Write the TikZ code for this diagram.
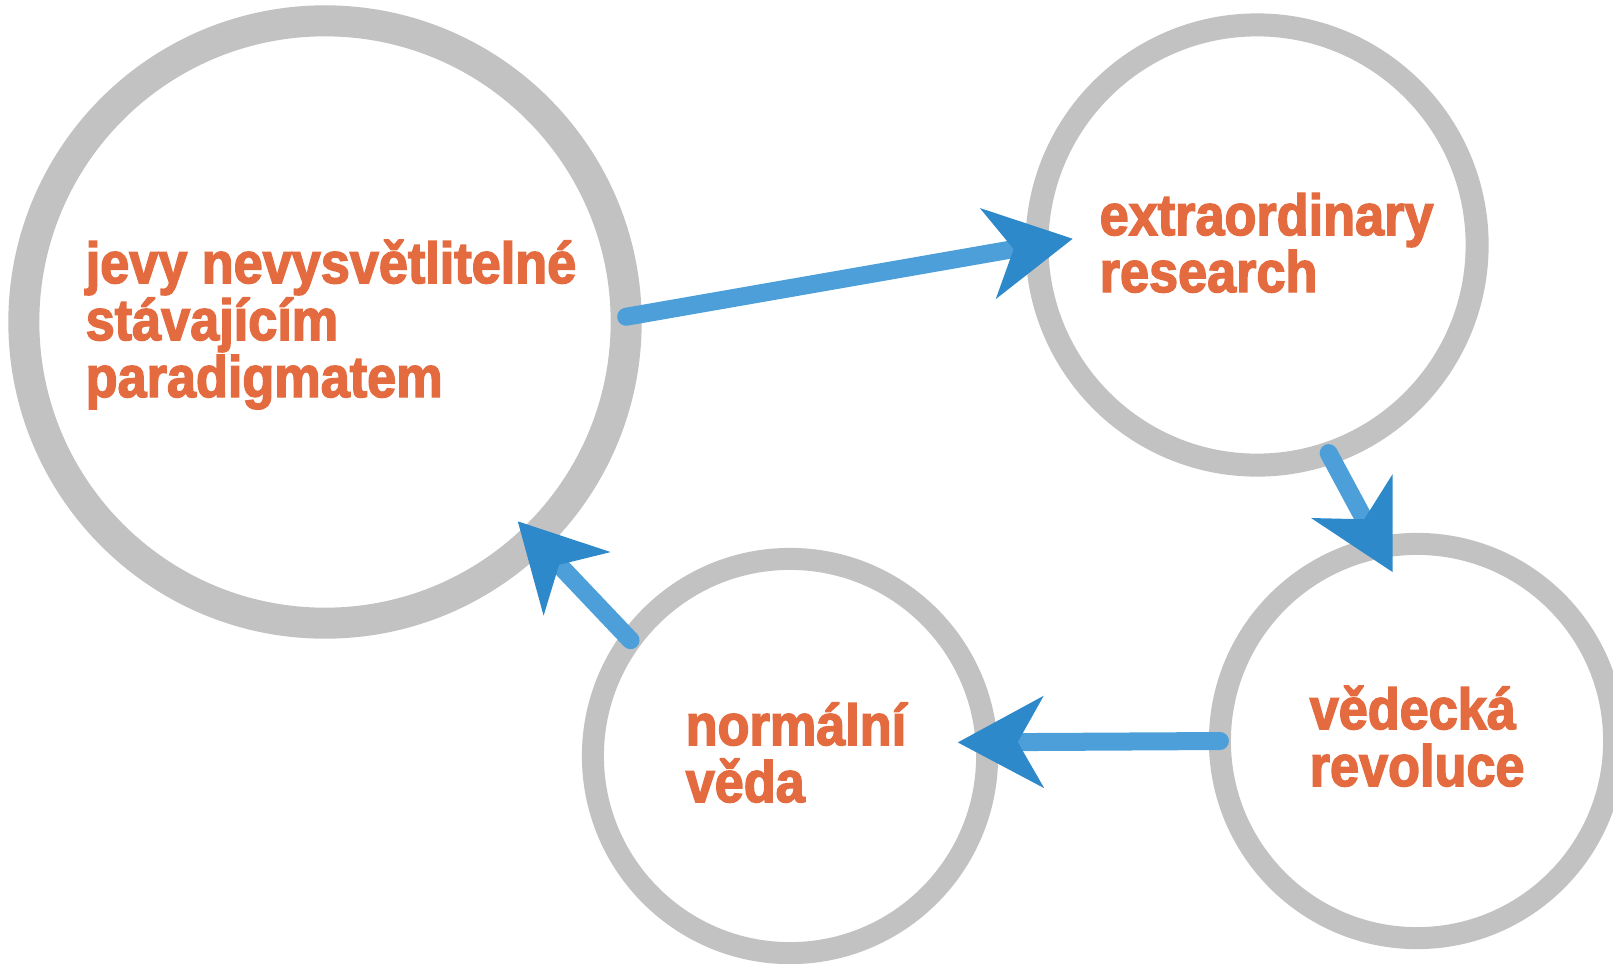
\documentclass[tikz,border=0pt]{standalone}
\usepackage{fontspec}
\newfontfamily\heavyfont{Liberation Sans Bold}[FakeBold=2.5,FakeStretch=0.9]
\usetikzlibrary{arrows.meta}
\definecolor{ringgray}{HTML}{C2C2C2}
\definecolor{labelorange}{HTML}{E36B3F}
\definecolor{arrowblue}{HTML}{4C9FD8}
\definecolor{tipblue}{HTML}{2E89CB}

\begin{document}
\begin{tikzpicture}[x=0.01cm,y=-0.01cm,
	ring/.style={circle,draw=ringgray,outer sep=0pt,inner sep=0pt},
	label text/.style={anchor=base west,inner sep=0pt,align=left,text=labelorange,
		font=\heavyfont\fontsize{16.5}{16.2}\selectfont},
	flow/.style={draw=arrowblue,line width=0.18cm,line cap=round,
		-{Stealth[length=8.5mm,width=9mm,inset=2.5mm,color=tipblue]}}]
	
	\useasboundingbox (0,0) rectangle (1613,963);
	\clip (0,0) rectangle (1613,963);
	
	\node[ring,line width=0.31cm,minimum size=6.02cm] (jevy) at (325,322) {};
	\node[ring,line width=0.23cm,minimum size=4.40cm] (extra) at (1257,245) {};
	\node[ring,line width=0.22cm,minimum size=3.94cm] (revol) at (1417,741) {};
	\node[ring,line width=0.22cm,minimum size=3.94cm] (normal) at (790,756) {};
	
	% base anchor sits on the last line
	\node[label text] (jevyt) at (85,397) {jevy nevysvětlitelné\\stávajícím\\paradigmatem};
	\node[label text] (extrat) at (1099,292) {extraordinary\\research};
	\node[label text] (normalt) at (685,802) {normální\\věda};
	\node[label text] (revolt) at (1309,786) {vědecká\\revoluce};
	
	\draw[flow,shorten >=-0.365cm] (jevy.1) -- (extra.180);
	\draw[flow,shorten >=-0.28cm] (extra.-71) -- (revol.101);
	\draw[flow,shorten >=-0.29cm] (revol.180) -- (normal.4.4);
	\draw[flow,shorten >=-0.24cm] (normal.144) -- (jevy.-46.4);
	
\end{tikzpicture}
\end{document}
